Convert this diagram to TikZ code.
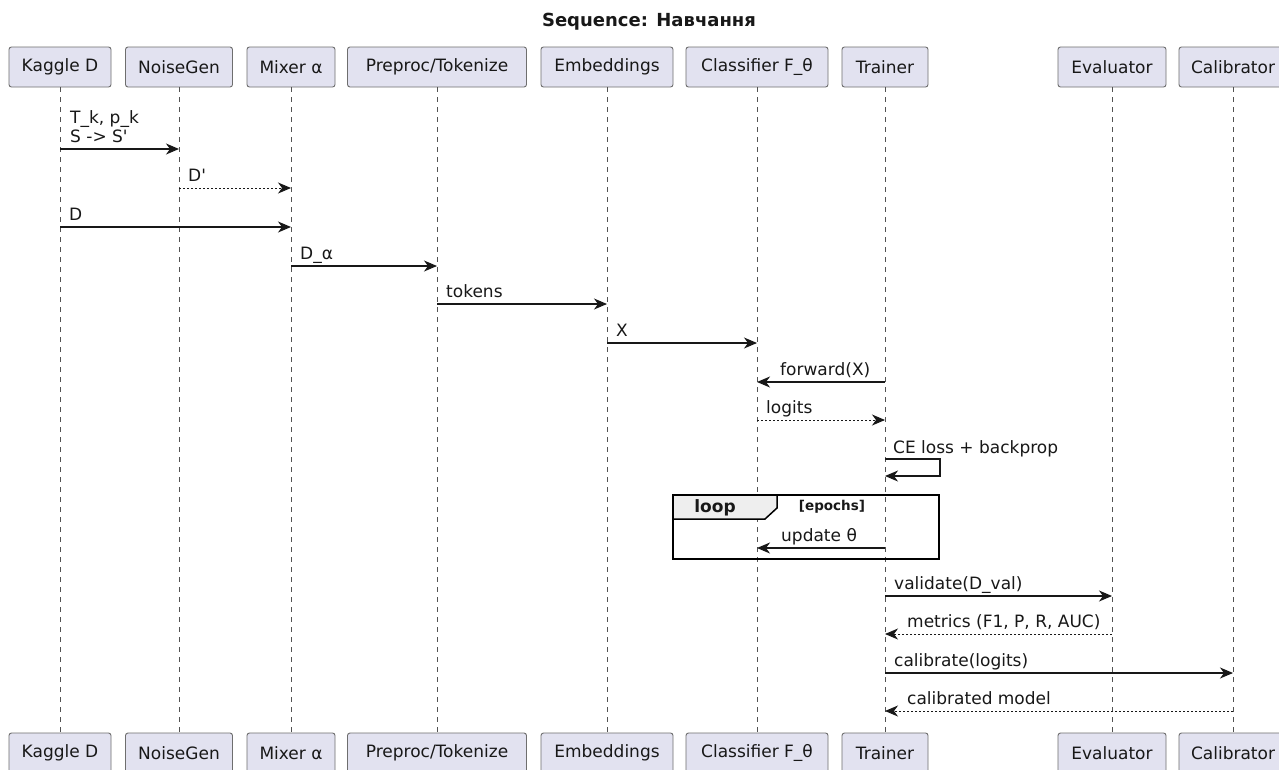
\documentclass[tikz,border=0pt]{standalone}
\usepackage{fontspec}
\setmainfont{DejaVu Sans}
\usetikzlibrary{arrows.meta}

\definecolor{ink}{HTML}{181818}
\definecolor{partfill}{HTML}{E2E2F0}
\definecolor{partline}{HTML}{6E6E6E}
\definecolor{tabfill}{HTML}{EEEEEE}

\newcommand\lblfont{\fontsize{17}{20}\selectfont}
\newcommand\ttlfont{\fontsize{18}{21}\selectfont\bfseries}
\newcommand\qs{\textquotesingle}

\tikzset{
  pbox/.style={draw=partline, fill=partfill, rounded corners=2.5pt, line width=0.9pt,
    minimum height=40pt, inner sep=0pt, font=\lblfont, text=ink},
  life/.style={draw=ink!75, line width=0.7pt, dash pattern=on 5pt off 5pt},
  msg/.style={draw=ink, line width=1.1pt, -{Stealth[length=13pt,width=11pt,inset=4pt]}},
  reply/.style={msg, line width=0.9pt, dash pattern=on 2pt off 2pt},
  lab/.style={anchor=base west, inner sep=0pt, font=\lblfont, text=ink},
}

\begin{document}
\begin{tikzpicture}[x=1pt,y=-1pt]
\clip (0,0) rectangle (1279,769);
\fill[white] (0,0) rectangle (1279,769);

% title
\node[font=\ttlfont, text=ink] (title) at (649,22) {Sequence: Навчання};

% participants (top and bottom)
\foreach \n/\x/\w/\t in {kag/60/102/Kaggle D, noi/179/107/NoiseGen, mix/291/88/Mixer α,
    pre/437/179/{Preproc/Tokenize}, emb/607/132/Embeddings, cla/757/142/Classifier F\_θ,
    tra/885/86/Trainer, eva/1112/108/Evaluator, cal/1233/108/Calibrator}{
  \node[pbox, minimum width=\w pt] (\n T) at (\x,67) {\t};
  \node[pbox, minimum width=\w pt] (\n B) at (\x,753) {\t};
}

% lifelines
\foreach \n in {kag,noi,mix,pre,emb,cla,tra,eva,cal}{
  \draw[life] (\n T) -- (\n B);
}

% loop fragment
\fill[tabfill] (673,495) -- (777,495) -- (777,508) -- (765,519) -- (673,519) -- cycle;
\draw[black, line width=1.5pt] (777,495) -- (777,508) -- (765,519) -- (673,519);
\draw[black, line width=2pt] (673,495) rectangle (939,559);
\node[font=\fontsize{17}{20}\selectfont\bfseries, text=ink] (looptag) at (715,508) {loop};
\node[font=\fontsize{13.5}{16}\selectfont\bfseries, text=ink] (loopcond) at (832,507) {[epochs]};

% messages
\draw[msg] (kagT.south |- 0,149) -- (noiT.south |- 0,149);
\node[lab] (m1a) at (70,123) {T\_k, p\_k};
\node[lab] (m1b) at (70,142) {S -> S\qs};

\draw[reply] (noiT.south |- 0,188) -- (mixT.south |- 0,188);
\node[lab] (m2) at (188,181) {D\qs};

\draw[msg] (kagT.south |- 0,227) -- (mixT.south |- 0,227);
\node[lab] (m3) at (69,220) {D};

\draw[msg] (mixT.south |- 0,266) -- (preT.south |- 0,266);
\node[lab] (m4) at (300,259) {D\_α};

\draw[msg] (preT.south |- 0,304) -- (embT.south |- 0,304);
\node[lab] (m5) at (446,297) {tokens};

\draw[msg] (embT.south |- 0,343) -- (claT.south |- 0,343);
\node[lab] (m6) at (616,336) {X};

\draw[msg] (traT.south |- 0,382) -- (claT.south |- 0,382);
\node[lab] (m7) at (780,375) {forward(X)};

\draw[reply] (claT.south |- 0,420) -- (traT.south |- 0,420);
\node[lab] (m8) at (766,413) {logits};

\coordinate (selfA) at (940,459);
\coordinate (selfB) at (940,476);
\draw[msg] (traT.south |- selfA) -- (selfA) -- (selfB) -- (traT.south |- selfB);
\node[lab] (m9) at (893,453) {CE loss + backprop};

\draw[msg] (traT.south |- 0,548) -- (claT.south |- 0,548);
\node[lab] (m10) at (781,541) {update θ};

\draw[msg] (traT.south |- 0,596) -- (evaT.south |- 0,596);
\node[lab] (m11) at (894,589) {validate(D\_val)};

\draw[reply] (evaT.south |- 0,634) -- (traT.south |- 0,634);
\node[lab] (m12) at (907,627) {metrics (F1, P, R, AUC)};

\draw[msg] (traT.south |- 0,673) -- (calT.south |- 0,673);
\node[lab] (m13) at (894,666) {calibrate(logits)};

\draw[reply] (calT.south |- 0,711) -- (traT.south |- 0,711);
\node[lab] (m14) at (907,704) {calibrated model};
\end{tikzpicture}
\end{document}
